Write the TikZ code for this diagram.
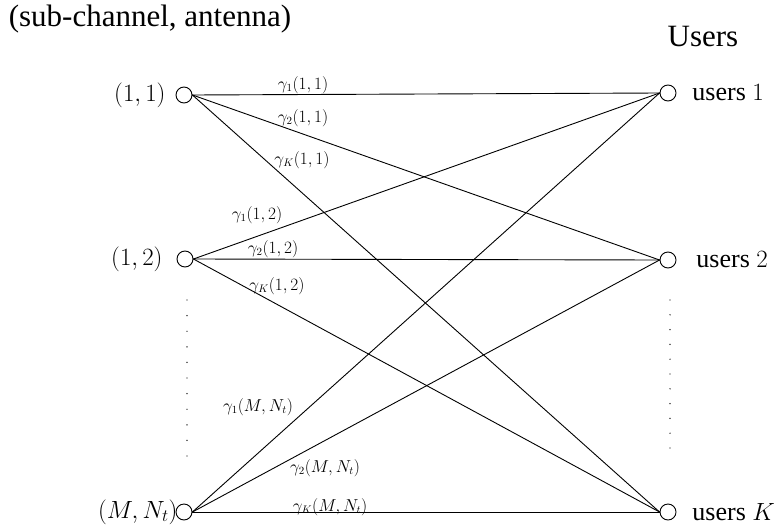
\documentclass[tikz,border=0pt]{standalone}
\usepackage{fontspec}
\setmainfont{Liberation Serif}

\begin{document}
\begin{tikzpicture}[x=1pt, y=-1pt, line width=0.9pt, line cap=round, line join=round,
  port/.style={circle, draw, line width=0.9pt, inner sep=0pt, minimum size=16pt},
  gain/.style={inner sep=0pt, font=\fontsize{16}{19}\selectfont},
  side/.style={inner sep=0pt, anchor=east, font=\fontsize{23.5}{28}\selectfont},
  user/.style={inner sep=0pt, anchor=west, font=\fontsize{26}{31}\selectfont},
  head/.style={inner sep=0pt, font=\fontsize{31}{37}\selectfont}]

  %% ════ 标题 ════
  \node[head] (hsub) at (150,19) {(sub-channel, antenna)};
  \node[head] (husr) at (703,37) {Users};

  %% ════ 左侧：(子信道, 天线) ════
  \node[port] (s11) at (184,95) {};
  \node[port] (s12) at (185,259) {};
  \node[port] (sMN) at (184,512) {};
  \node[side] (l11) at (166,95) {$(1,1)$};
  \node[side] (l12) at (163,259) {$(1,2)$};
  \node[side] (lMN) at (178,512) {$(M,N_t)$};

  %% ════ 右侧：用户 ════
  \node[port] (u1) at (668,93) {};
  \node[port] (u2) at (668,260) {};
  \node[port] (uK) at (668,512) {};
  \node[user] (n1) at (692,93) {users $1$};
  \node[user] (n2) at (696,260) {users $2$};
  \node[user] (nK) at (692,512) {users $K$};

  %% ════ 连线 ════
  \draw (s11.east) -- (u1.west);
  \draw (s11.east) -- (u2.west);
  \draw (s11.east) -- (uK.west);
  \draw (s12.east) -- (u1.west);
  \draw (s12.east) -- (u2.west);
  \draw (s12.east) -- (uK.west);
  \draw (sMN.east) -- (u1.west);
  \draw (sMN.east) -- (u2.west);
  \draw (sMN.east) -- (uK.west);

  %% ════ 信道增益标签 ════
  \node[gain] (g111) at (303,85) {$\gamma_1(1,1)$};
  \node[gain] (g211) at (303,118) {$\gamma_2(1,1)$};
  \node[gain] (gK11) at (302,160) {$\gamma_K(1,1)$};
  \node[gain] (g112) at (257,215) {$\gamma_1(1,2)$};
  \node[gain] (g212) at (273,249) {$\gamma_2(1,2)$};
  \node[gain] (gK12) at (277,286) {$\gamma_K(1,2)$};
  \node[gain] (g1MN) at (258,407) {$\gamma_1(M,N_t)$};
  \node[gain] (g2MN) at (325,468) {$\gamma_2(M,N_t)$};
  \node[gain] (gKMN) at (330,507) {$\gamma_K(M,N_t)$};

  %% ════ 省略点 ════
  \foreach \k in {0,...,10} {
    \fill (187,{300+15.6*\k}) circle (0.7);
    \fill (670,{300+14.8*\k}) circle (0.7);
  }

  % 钉死画布
  \pgfresetboundingbox
  \path[use as bounding box] (0,0) rectangle (778,527);
\end{tikzpicture}
\end{document}
